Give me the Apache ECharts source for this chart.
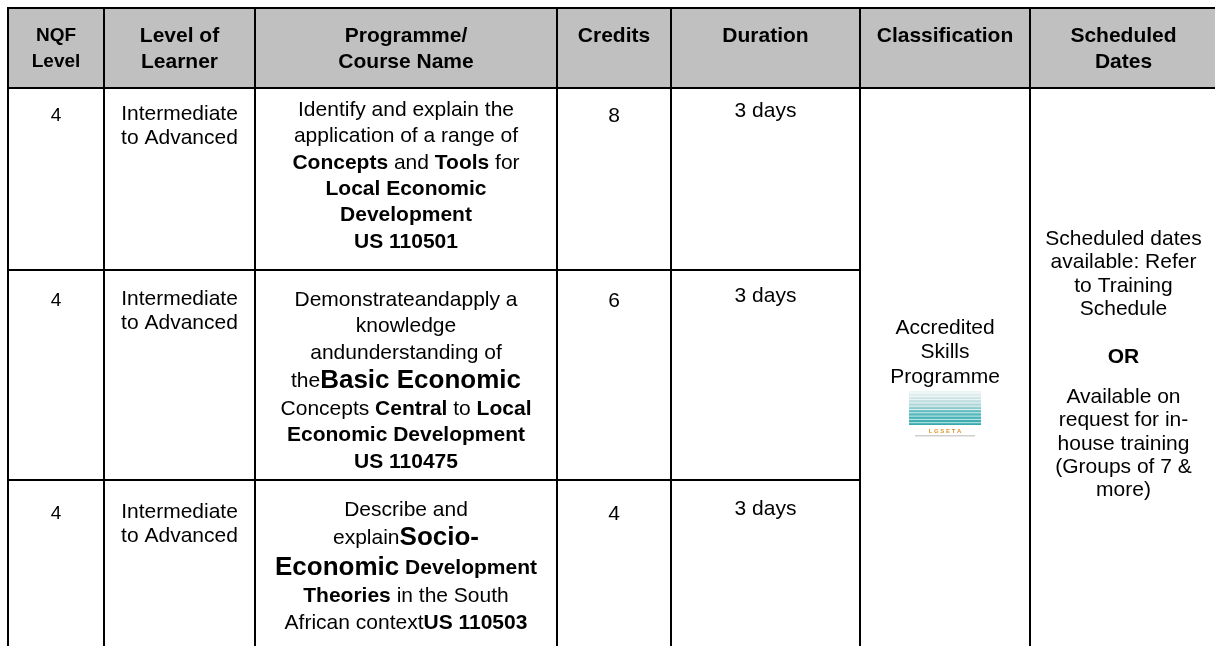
<!DOCTYPE html>
<html>
<head>
<meta charset="utf-8">
<script src="https://cdn.jsdelivr.net/npm/echarts@6/dist/echarts.min.js"></script>
<style>html,body{margin:0;padding:0;background:#fff}#c{width:1215px;height:646px}</style>
</head>
<body>
<div id="c"></div>
<script>
// ---------------- DATA ----------------
const headers = ['NQF\nLevel', 'Level of\nLearner', 'Programme/\nCourse Name', 'Credits', 'Duration', 'Classification', 'Scheduled\nDates'];
const nqfLevels = ['4', '4', '4'];
const learnerLevels = [
  ['Intermediate', 'to Advanced'],
  ['Intermediate', 'to Advanced'],
  ['Intermediate', 'to Advanced']
];
const programmes = [
  ['Identify and explain the', 'application of a range of', '{b|Concepts} and {b|Tools} for', '{b|Local Economic}', '{b|Development}', '{b|US 110501}'],
  ['Demonstrateandapply a', 'knowledge', 'andunderstanding of', 'the{B|Basic Economic}', 'Concepts {b|Central} to {b|Local}', '{b|Economic Development}', '{b|US 110475}'],
  ['Describe and', 'explain{B|Socio-}', '{B|Economic} {b|Development}', '{b|Theories} in the South', 'African context{b|US 110503}']
];
const credits = ['8', '6', '4'];
const durations = ['3 days', '3 days', '3 days'];
const classificationLines = ['Accredited', 'Skills', 'Programme'];
const logoLabel = 'L G S E T A';
const scheduledBlocks = [
  ['Scheduled dates', 'available: Refer', 'to Training', 'Schedule'],
  ['{b|OR}'],
  ['Available on', 'request for in-', 'house training', '(Groups of 7 &', 'more)']
];

// ---------------- LAYOUT ----------------
const colX = [8, 104, 255, 557, 671, 860, 1030, 1217];
const rowY = [8, 88, 270, 480, 664];
const BORDER = 2;
const HEADER_BG = '#c0c0c0';
const FONT = '"Liberation Sans", Arial, Helvetica, sans-serif';
const LH = 26.4;
const BIG_LH = 30;
const headerFirst = 28;
const headerLH = 26;
const cellFirst = [28, 31, 34];
const durationShift = -5;
const progFirst = [22, 30, 30];
const schedCenters = [239, 357, 397];
const schedLH = 23.4;
const classFirst = 328;
const classLH = 24.5;

const rich = {
  b: {fontWeight: 'bold', fontSize: 21, fontFamily: FONT, fill: '#000'},
  B: {fontWeight: 'bold', fontSize: 26, fontFamily: FONT, fill: '#000'}
};

function textEl(x, y, text, opt) {
  return {
    type: 'text', x: x, y: y, silent: true, z: 10,
    style: Object.assign({
      text: text, fill: '#000', fontSize: 21, fontFamily: FONT, fontWeight: 'normal',
      align: 'center', verticalAlign: 'middle', rich: rich
    }, opt || {})
  };
}
function stack(lines, x, firstCenter, baseLH, opt) {
  const out = [];
  let y = firstCenter, prevH = 0;
  lines.forEach(function (ln, i) {
    const h = ln.indexOf('{B|') >= 0 ? BIG_LH : baseLH;
    if (i > 0) y += (prevH + h) / 2;
    out.push(textEl(x, y, ln, opt));
    prevH = h;
  });
  return out;
}
function cx(c) { return (colX[c] + colX[c + 1]) / 2; }

const els = [];
// header background
els.push({type: 'rect', silent: true, z: 1, shape: {x: colX[0], y: rowY[0], width: colX[7] - colX[0], height: rowY[1] - rowY[0]}, style: {fill: HEADER_BG}});

// header texts
headers.forEach(function (h, c) {
  const size = c === 0 ? 19 : 21;
  els.push.apply(els, stack(h.split('\n'), cx(c), rowY[0] + headerFirst, headerLH, {fontWeight: 'bold', fontSize: size}));
});

// body rows
for (let r = 0; r < 3; r++) {
  const top = rowY[r + 1];
  els.push(textEl(cx(0), top + cellFirst[r], nqfLevels[r], {fontSize: 19}));
  els.push.apply(els, stack(learnerLevels[r], cx(1), top + cellFirst[r] - 2, 24.5));
  els.push.apply(els, stack(programmes[r], cx(2), top + progFirst[r], LH));
  els.push(textEl(cx(3), top + cellFirst[r], credits[r]));
  els.push(textEl(cx(4), top + cellFirst[r] + durationShift, durations[r]));
}

// merged classification cell
els.push.apply(els, stack(classificationLines, cx(5), classFirst, classLH));
// small logo drawing (decorative)
const logoW = 72, logoH = 34;
const logoX = cx(5) - logoW / 2, logoY = classFirst + 2 * classLH + 14;
els.push({type: 'rect', silent: true, z: 5, shape: {x: logoX, y: logoY, width: logoW, height: logoH},
  style: {fill: new echarts.graphic.LinearGradient(0, 0, 0, 1, [
    {offset: 0, color: '#eef5f6'}, {offset: 0.45, color: '#a9d3d6'}, {offset: 0.62, color: '#5cbcbf'}, {offset: 1, color: '#34a9ad'}])}});
for (let k = 0; k < 10; k++) {
  els.push({type: 'line', silent: true, z: 6, shape: {x1: logoX, y1: logoY + 2 + k * 3.3, x2: logoX + logoW, y2: logoY + 2 + k * 3.3}, style: {stroke: '#ffffff', lineWidth: 1, opacity: 0.7}});
}
els.push(textEl(cx(5), logoY + logoH + 6, logoLabel, {fontSize: 6, fontWeight: 'bold', fill: '#d9942a'}));
els.push({type: 'rect', silent: true, z: 5, shape: {x: logoX + 6, y: logoY + logoH + 10, width: logoW - 12, height: 1.5}, style: {fill: '#cfcfcf'}});

// merged scheduled dates cell
els.push.apply(els, stack(scheduledBlocks[0], cx(6), schedCenters[0], schedLH));
els.push.apply(els, stack(scheduledBlocks[1], cx(6), schedCenters[1], schedLH));
els.push.apply(els, stack(scheduledBlocks[2], cx(6), schedCenters[2], schedLH));

// borders
function hline(y, x1, x2) { els.push({type: 'line', silent: true, z: 20, shape: {x1: x1, y1: y, x2: x2, y2: y}, style: {stroke: '#000', lineWidth: BORDER}}); }
function vline(x, y1, y2) { els.push({type: 'line', silent: true, z: 20, shape: {x1: x, y1: y1, x2: x, y2: y2}, style: {stroke: '#000', lineWidth: BORDER}}); }
hline(rowY[0], colX[0] - 1, colX[7]);
hline(rowY[1], colX[0] - 1, colX[7]);
hline(rowY[2], colX[0] - 1, colX[5]);
hline(rowY[3], colX[0] - 1, colX[5]);
hline(rowY[4], colX[0] - 1, colX[7]);
colX.forEach(function (x) { vline(x, rowY[0] - 1, rowY[4]); });

const chart = echarts.init(document.getElementById('c'), null, {renderer: 'canvas'});
chart.setOption({
  backgroundColor: '#ffffff',
  animation: false,
  graphic: {elements: els}
});
</script>
</body>
</html>
